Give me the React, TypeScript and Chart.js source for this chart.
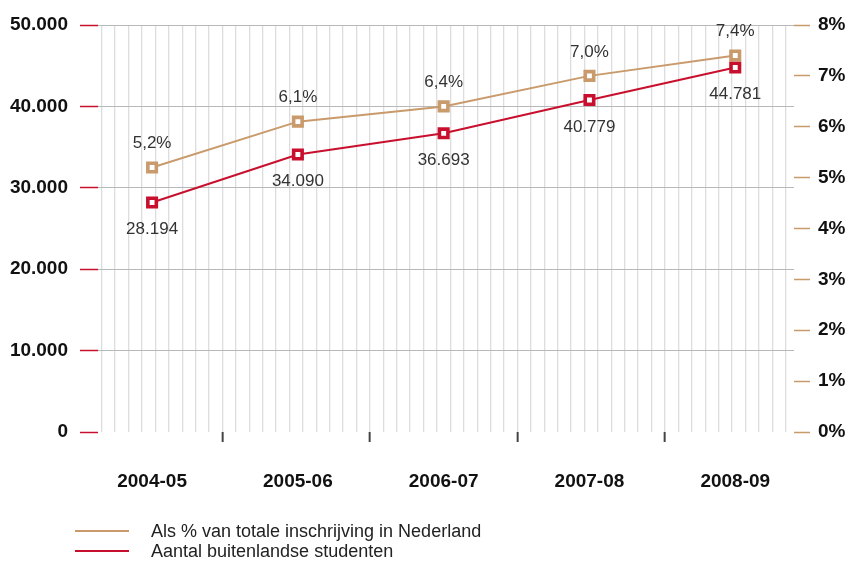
import React, { useEffect, useRef } from 'react';
import { Chart, registerables } from 'chart.js';

Chart.register(...registerables);

// ---- data ----
const categories = ['2004-05', '2005-06', '2006-07', '2007-08', '2008-09'];
const studentCounts = [28194, 34090, 36693, 40779, 44781];
const sharePercent = [5.2, 6.1, 6.4, 7.0, 7.4];
const countTicks = [0, 10000, 20000, 30000, 40000, 50000];
const percentTicks = [0, 1, 2, 3, 4, 5, 6, 7, 8];
const seriesNames = ['Als % van totale inschrijving in Nederland', 'Aantal buitenlandse studenten'];

// ---- styles ----
const RED = '#c8102e';
const TAN = '#c99a6b';
const FONT = '"Liberation Sans", Arial, Helvetica, sans-serif';
const GRID_PER_CATEGORY = 11;
const FIRST_BOUNDARY_LINE = 9;

const fmtNL = (n: number) => String(Math.round(n)).replace(/\B(?=(\d{3})+(?!\d))/g, '.');
const fmtPct = (v: number, d: number) => v.toFixed(d).replace('.', ',') + '%';

const valueLabels = {
  id: 'valueLabels',
  afterDatasetsDraw(chart: any) {
    const ctx = chart.ctx;
    ctx.save();
    ctx.font = `17px ${FONT}`;
    ctx.fillStyle = '#333';
    ctx.textAlign = 'center';
    ctx.textBaseline = 'middle';
    chart.data.datasets.forEach((ds: any, di: number) => {
      const meta = chart.getDatasetMeta(di);
      const isPct = ds.yAxisID === 'y2';
      meta.data.forEach((pt: any, i: number) => {
        const text = isPct ? fmtPct(sharePercent[i], 1) : fmtNL(studentCounts[i]);
        ctx.fillText(text, pt.x, pt.y + (isPct ? -24 : 27));
      });
    });
    ctx.restore();
  },
};

const colors = [TAN, RED];

export default function App() {
  const ref = useRef<HTMLCanvasElement>(null);

  useEffect(() => {
    const boldFont = { family: FONT, size: 19, weight: 'bold' as const };
    const chart = new Chart(ref.current as HTMLCanvasElement, {
      type: 'line',
      data: {
        datasets: [
          {
            label: seriesNames[0],
            data: sharePercent.map((v, i) => ({ x: i, y: v })),
            yAxisID: 'y2',
            xAxisID: 'x',
            borderColor: TAN,
            borderWidth: 2,
            pointStyle: 'rect',
            pointRadius: 6,
            pointBorderWidth: 3.6,
            pointBackgroundColor: '#fff',
            pointBorderColor: TAN,
            tension: 0,
          },
          {
            label: seriesNames[1],
            data: studentCounts.map((v, i) => ({ x: i, y: v })),
            yAxisID: 'y',
            xAxisID: 'x',
            borderColor: RED,
            borderWidth: 2,
            pointStyle: 'rect',
            pointRadius: 6,
            pointBorderWidth: 3.6,
            pointBackgroundColor: '#fff',
            pointBorderColor: RED,
            tension: 0,
          },
        ],
      },
      options: {
        responsive: false,
        animation: false,
        devicePixelRatio: 1,
        events: [],
        clip: false as any,
        layout: { padding: { top: 25, left: 0, right: 0, bottom: 0 } },
        plugins: { legend: { display: false }, tooltip: { enabled: false } },
        scales: {
          x: {
            type: 'linear',
            position: 'bottom',
            weight: 1,
            min: -0.371,
            max: 4.403,
            afterBuildTicks: (s: any) => {
              s.ticks = categories.map((_, i) => ({ value: i }));
            },
            afterFit: (s: any) => {
              s.height = 123;
            },
            grid: { display: false, drawTicks: false },
            border: { display: false },
            ticks: {
              callback: (v: any) => categories[v] ?? '',
              font: boldFont,
              color: '#111',
              padding: 28,
              maxRotation: 0,
              autoSkip: false,
            },
          },
          xg: {
            type: 'linear',
            position: 'bottom',
            weight: 0,
            min: -0.276,
            max: 51.625,
            afterBuildTicks: (s: any) => {
              const t = [];
              for (let k = Math.ceil(s.min); k <= Math.floor(s.max); k++) t.push({ value: k });
              s.ticks = t;
            },
            afterFit: (s: any) => {
              s.height = 10;
            },
            grid: {
              color: '#dddddd',
              lineWidth: 1.3,
              tickLength: 10,
              tickWidth: 2,
              tickColor: (c: any) => {
                const k = c.tick ? c.tick.value - FIRST_BOUNDARY_LINE : -1;
                const ok = k >= 0 && k % GRID_PER_CATEGORY === 0 && k / GRID_PER_CATEGORY < categories.length - 1;
                return ok ? '#444' : 'rgba(0,0,0,0)';
              },
            },
            border: { display: false },
            ticks: { display: false },
          },
          y: {
            type: 'linear',
            position: 'left',
            min: 0,
            max: 50000,
            afterBuildTicks: (s: any) => {
              s.ticks = countTicks.map((v) => ({ value: v }));
            },
            afterFit: (s: any) => {
              s.width = 98;
            },
            grid: {
              color: (c: any) => (c.tick && c.tick.value === 0 ? 'rgba(0,0,0,0)' : '#b8b8b8'),
              lineWidth: 1,
              tickColor: RED,
              tickLength: 18,
              tickWidth: 1.5,
            },
            border: { display: false },
            ticks: { callback: (v: any) => fmtNL(v), font: boldFont, color: '#111', padding: 12 },
          },
          y2: {
            type: 'linear',
            position: 'right',
            min: 0,
            max: 8,
            afterBuildTicks: (s: any) => {
              s.ticks = percentTicks.map((v) => ({ value: v }));
            },
            afterFit: (s: any) => {
              s.width = 56;
            },
            grid: { drawOnChartArea: false, tickColor: TAN, tickLength: 16, tickWidth: 1.5 },
            border: { display: false },
            ticks: { callback: (v: any) => v + '%', font: boldFont, color: '#111', padding: 8 },
          },
        },
      } as any,
      plugins: [valueLabels],
    } as any);
    return () => chart.destroy();
  }, []);

  return (
    <div
      style={{
        position: 'absolute',
        left: 0,
        top: 0,
        width: 850,
        height: 565,
        background: '#fff',
        fontFamily: FONT,
      }}
    >
      <canvas ref={ref} width={850} height={565} style={{ display: 'block' }} />
      {seriesNames.map((name, i) => (
        <div key={name} style={{ position: 'absolute', left: 0, top: 521 + i * 20, height: 20, width: 850 }}>
          <div style={{ position: 'absolute', left: 75, top: 9, width: 54, height: 2, background: colors[i] }} />
          <div
            style={{
              position: 'absolute',
              left: 151,
              top: 0,
              lineHeight: '20px',
              fontSize: 18,
              color: '#222',
              whiteSpace: 'nowrap',
            }}
          >
            {name}
          </div>
        </div>
      ))}
    </div>
  );
}
